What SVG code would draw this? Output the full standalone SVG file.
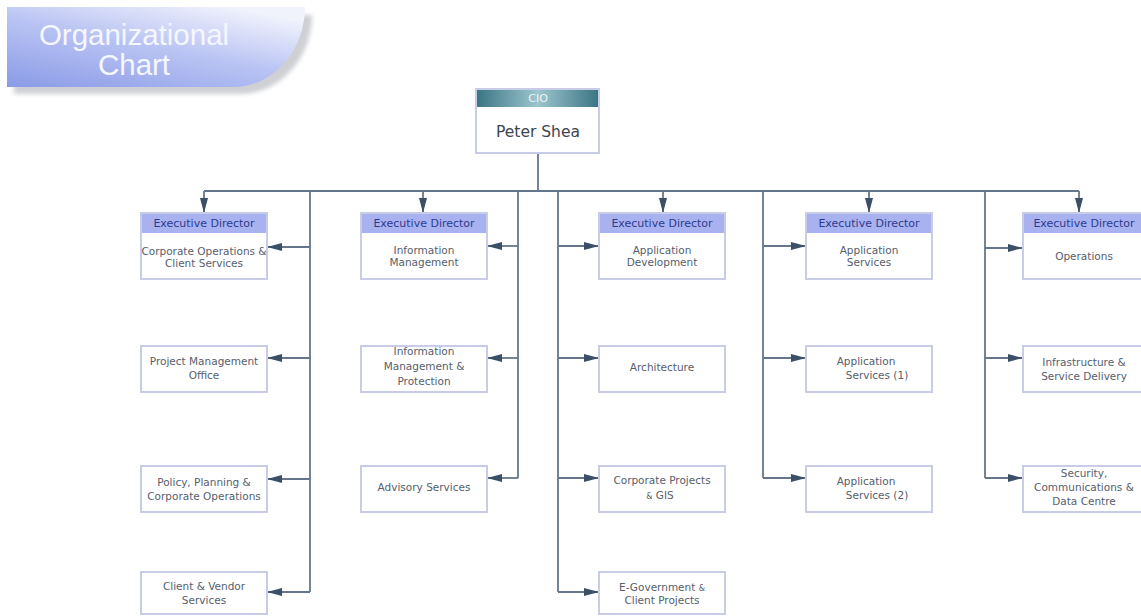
<svg xmlns="http://www.w3.org/2000/svg" width="1141" height="616" viewBox="0 0 1141 616">
<style>
.bx{fill:#fff;stroke:#c9cce6;stroke-width:2}
.hd{fill:#a9b2f0}
.ht{font-family:"DejaVu Sans",sans-serif;font-size:11px;fill:#2e3b8c;text-anchor:middle}
.t{font-family:"DejaVu Sans",sans-serif;font-size:10.5px;fill:#56606c;text-anchor:middle}
.ln{fill:none;stroke:#66768a;stroke-width:1.8}
.ar{fill:none;stroke:#66768a;stroke-width:1.8;marker-end:url(#ah)}
</style>
<defs>
<marker id="ah" markerUnits="userSpaceOnUse" markerWidth="16" markerHeight="10" refX="15" refY="5" orient="auto">
<path d="M0,1 L15,5 L0,9 z" fill="#3b4f66"/>
</marker>
<linearGradient id="tg" x1="0" y1="1" x2="0.75" y2="0">
<stop offset="0" stop-color="#8a9be7"/>
<stop offset="0.55" stop-color="#b9c3f3"/>
<stop offset="1" stop-color="#f0f2fc"/>
</linearGradient>
<linearGradient id="cg" x1="0" y1="0" x2="1" y2="0">
<stop offset="0" stop-color="#3b7584"/>
<stop offset="0.5" stop-color="#9cc6ce"/>
<stop offset="1" stop-color="#3b7584"/>
</linearGradient>
<filter id="bl"><feGaussianBlur stdDeviation="2"/></filter>
</defs>
<rect width="1141" height="616" fill="#fff"/>

<g id="title">
<path d="M14,15 H312 A72 79 0 0 1 240 94 H14 Z" fill="#cfd0d4" filter="url(#bl)"/>
<path d="M7,7 H305 A72 80 0 0 1 233 87 H7 Z" fill="url(#tg)"/>
<text x="134" y="45" font-family="Liberation Sans, Arial, sans-serif" font-size="29.5" fill="#f5f7ff" text-anchor="middle">Organizational</text>
<text x="134" y="75" font-family="Liberation Sans, Arial, sans-serif" font-size="29.5" fill="#f5f7ff" text-anchor="middle">Chart</text>
</g>

<g id="connectors">
<path class="ln" d="M538,153 V191 M204,191 H1079"/>
<path class="ar" d="M204,191 V213"/>
<path class="ar" d="M423,191 V213"/>
<path class="ar" d="M663,191 V213"/>
<path class="ar" d="M869,191 V213"/>
<path class="ar" d="M1079,191 V213"/>
<path class="ln" d="M310,191 V592"/>
<path class="ar" d="M310,247 H267"/>
<path class="ar" d="M310,358 H267"/>
<path class="ar" d="M310,479 H267"/>
<path class="ar" d="M310,592 H267"/>
<path class="ln" d="M518,191 V478"/>
<path class="ar" d="M518,246 H487"/>
<path class="ar" d="M518,358 H487"/>
<path class="ar" d="M518,478 H487"/>
<path class="ln" d="M558,191 V592"/>
<path class="ar" d="M558,246 H599"/>
<path class="ar" d="M558,358 H599"/>
<path class="ar" d="M558,478 H599"/>
<path class="ar" d="M558,592 H599"/>
<path class="ln" d="M763,191 V478"/>
<path class="ar" d="M763,246 H806"/>
<path class="ar" d="M763,358 H806"/>
<path class="ar" d="M763,478 H806"/>
<path class="ln" d="M985,191 V478"/>
<path class="ar" d="M985,248 H1023"/>
<path class="ar" d="M985,358 H1023"/>
<path class="ar" d="M985,478 H1023"/>
</g>

<g id="cio">
<rect class="bx" x="476" y="89" width="123" height="64"/>
<rect x="477" y="90" width="121" height="17" fill="url(#cg)"/>
<text x="538" y="102" font-family="DejaVu Sans, sans-serif" font-size="11" fill="#eef3f5" text-anchor="middle">CIO</text>
<text x="538" y="137" font-family="DejaVu Sans, sans-serif" font-size="15.5" fill="#3c4550" text-anchor="middle">Peter Shea</text>
</g>

<g id="ed-corporate">
<rect class="bx" x="141" y="213" width="126" height="66"/>
<rect class="hd" x="142" y="214" width="124" height="19"/>
<text class="ht" x="204" y="227">Executive Director</text>
<text class="t" x="204" y="255">Corporate Operations &amp;</text>
<text class="t" x="204" y="267">Client Services</text>
</g>
<g id="pmo">
<rect class="bx" x="141" y="346" width="126" height="46"/>
<text class="t" x="204" y="365">Project Management</text>
<text class="t" x="204" y="379">Office</text>
</g>
<g id="policy">
<rect class="bx" x="141" y="466" width="126" height="46"/>
<text class="t" x="204" y="486">Policy, Planning &amp;</text>
<text class="t" x="204" y="500">Corporate Operations</text>
</g>
<g id="client-vendor">
<rect class="bx" x="141" y="572" width="126" height="42"/>
<text class="t" x="204" y="590">Client &amp; Vendor</text>
<text class="t" x="204" y="604">Services</text>
</g>

<g id="ed-info">
<rect class="bx" x="361" y="213" width="126" height="66"/>
<rect class="hd" x="362" y="214" width="124" height="19"/>
<text class="ht" x="424" y="227">Executive Director</text>
<text class="t" x="424" y="254">Information</text>
<text class="t" x="424" y="266">Management</text>
</g>
<g id="imp">
<rect class="bx" x="361" y="346" width="126" height="46"/>
<text class="t" x="424" y="355">Information</text>
<text class="t" x="424" y="370">Management &amp;</text>
<text class="t" x="424" y="385">Protection</text>
</g>
<g id="advisory">
<rect class="bx" x="361" y="466" width="126" height="46"/>
<text class="t" x="424" y="491">Advisory Services</text>
</g>

<g id="ed-appdev">
<rect class="bx" x="599" y="213" width="126" height="66"/>
<rect class="hd" x="600" y="214" width="124" height="19"/>
<text class="ht" x="662" y="227">Executive Director</text>
<text class="t" x="662" y="254">Application</text>
<text class="t" x="662" y="266">Development</text>
</g>
<g id="architecture">
<rect class="bx" x="599" y="346" width="126" height="46"/>
<text class="t" x="662" y="371">Architecture</text>
</g>
<g id="corp-projects">
<rect class="bx" x="599" y="466" width="126" height="46"/>
<text class="t" x="662" y="484">Corporate Projects</text>
<text class="t" x="660" y="499"><tspan font-size="8">&amp;</tspan>  GIS</text>
</g>
<g id="egov">
<rect class="bx" x="599" y="572" width="126" height="42"/>
<text class="t" x="662" y="591">E-Government <tspan font-size="8">&amp;</tspan></text>
<text class="t" x="662" y="604">Client Projects</text>
</g>

<g id="ed-appsvc">
<rect class="bx" x="806" y="213" width="126" height="66"/>
<rect class="hd" x="807" y="214" width="124" height="19"/>
<text class="ht" x="869" y="227">Executive Director</text>
<text class="t" x="869" y="254">Application</text>
<text class="t" x="869" y="266">Services</text>
</g>
<g id="appsvc1">
<rect class="bx" x="806" y="346" width="126" height="46"/>
<text class="t" x="866" y="365">Application</text>
<text class="t" x="877" y="379">Services (1)</text>
</g>
<g id="appsvc2">
<rect class="bx" x="806" y="466" width="126" height="46"/>
<text class="t" x="866" y="485">Application</text>
<text class="t" x="877" y="499">Services (2)</text>
</g>

<g id="ed-ops">
<rect class="bx" x="1023" y="213" width="126" height="66"/>
<rect class="hd" x="1024" y="214" width="124" height="19"/>
<text class="ht" x="1084" y="227">Executive Director</text>
<text class="t" x="1084" y="260">Operations</text>
</g>
<g id="infra">
<rect class="bx" x="1023" y="346" width="126" height="46"/>
<text class="t" x="1084" y="366">Infrastructure &amp;</text>
<text class="t" x="1084" y="380">Service Delivery</text>
</g>
<g id="security">
<rect class="bx" x="1023" y="466" width="126" height="46"/>
<text class="t" x="1084" y="477">Security,</text>
<text class="t" x="1084" y="491">Communications &amp;</text>
<text class="t" x="1084" y="505">Data Centre</text>
</g>
</svg>
